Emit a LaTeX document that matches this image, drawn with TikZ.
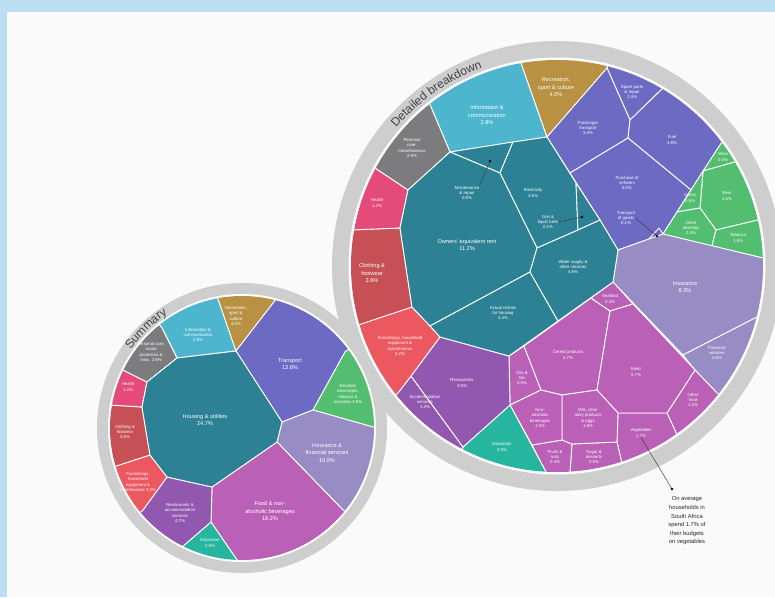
\documentclass[tikz,border=0pt]{standalone}
\usepackage{fontspec}
\setmainfont{Liberation Sans}
\usetikzlibrary{calc,decorations.text}

\begin{document}
\begin{tikzpicture}[x=1pt, y=-1pt,
    cell/.style={draw=white, line width=0.9pt, line join=round},
    lbl/.style={font=\fontsize{5.6}{7.2}\selectfont, text=white, align=center, inner sep=0pt},
    tiny/.style={font=\fontsize{4.3}{5.4}\selectfont},
    note/.style={font=\fontsize{5.8}{8.6}\selectfont, text=black!85, align=center, inner sep=0pt},
    pin/.style={black!75, line width=0.5pt}]
        \definecolor{frameblue}{RGB}{187,222,243}
        \definecolor{paper}{RGB}{250,250,250}
        \definecolor{ringgray}{RGB}{206,206,206}
        \definecolor{headgray}{RGB}{66,66,66}
        \definecolor{cteal}{RGB}{44,130,148}
        \definecolor{cinfo}{RGB}{78,181,207}
        \definecolor{crecr}{RGB}{184,146,66}
        \definecolor{ctrans}{RGB}{108,106,194}
        \definecolor{cgreen}{RGB}{84,190,112}
        \definecolor{cins}{RGB}{152,140,196}
        \definecolor{cfood}{RGB}{186,96,182}
        \definecolor{cedu}{RGB}{38,182,160}
        \definecolor{crest}{RGB}{146,88,176}
        \definecolor{cfurn}{RGB}{236,88,96}
        \definecolor{ccloth}{RGB}{198,80,86}
        \definecolor{chealth}{RGB}{228,74,122}
        \definecolor{cpers}{RGB}{124,124,126}

        \useasboundingbox (0,0) rectangle (775,597);

        % Page and frame
        \fill[frameblue] (0,0) rectangle (775,597);
        \fill[paper] (7,12) rectangle (775,597);

        \coordinate (B) at (557,266);
        \coordinate (S) at (242,428);

        % Detailed breakdown - ring
        \fill[ringgray] (B) circle (225);
        \fill[white] (B) circle (208.5);
        \path[decorate, decoration={text along path, text align=center, text color=headgray,
            text={|\fontsize{12}{13}\selectfont|Detailed breakdown}}]
            ($(B)+(-150:212)$) arc[start angle=-150, end angle=-100, radius=212];

        % Detailed breakdown - cells
        \begin{scope}
            \clip (B) circle (206);
            \fill[cinfo, cell] (450,152) -- (428,100) -- (397.6,60.5) -- (451.3,28.5) -- (511,10.1) -- (520,60) -- (547,137) -- cycle;
            \fill[crecr, cell] (520,60) -- (511,10.1) -- (620.8,13.9) -- (607,68) -- (547,137) -- cycle;
            % transport
            \fill[ctrans, cell] (607,68) -- (620.8,13.9) -- (689.7,42.4) -- (662,89) -- (630,120) -- cycle;
            \fill[ctrans, cell] (547,137) -- (607,68) -- (630,120) -- (628,138) -- (570,173) -- cycle;
            \fill[ctrans, cell] (630,120) -- (662,89) -- (689.7,42.4) -- (764.9,109.9) -- (722,142) -- (691,190) -- (628,138) -- cycle;
            \fill[ctrans, cell] (570,173) -- (628,138) -- (691,190) -- (663,234) -- (618,250) -- (600,220) -- cycle;
            \fill[ctrans, cell] (648,240) -- (663,234) -- (659,228) -- cycle;
            % alcoholic beverages & tobacco
            \fill[cgreen, cell] (722,142) -- (764.9,109.9) -- (782.6,136.8) -- (742,160) -- (703,171) -- cycle;
            \fill[cgreen, cell] (703,171) -- (742,160) -- (782.6,136.8) -- (810.3,207.5) -- (758,220) -- (716,230) -- (700,208) -- cycle;
            \fill[cgreen, cell] (703,171) -- (700,208) -- (677,212) -- cycle;
            \fill[cgreen, cell] (677,212) -- (700,208) -- (716,230) -- (712,246) -- (663,234) -- cycle;
            \fill[cgreen, cell] (716,230) -- (758,220) -- (810.3,207.5) -- (816.8,256) -- (763,258) -- (712,246) -- cycle;
            % insurance & financial services
            \fill[cins, cell] (618,250) -- (663,234) -- (763,258) -- (816.8,256) -- (808.9,330.2) -- (757,317) -- (683,355) -- (613,282) -- cycle;
            \fill[cins, cell] (683,355) -- (757,317) -- (808.9,330.2) -- (760.8,427.5) -- (717,393) -- (695,370) -- cycle;
            % food
            \fill[cfood, cell] (695,370) -- (717,393) -- (760.8,427.5) -- (707.3,478.2) -- (678,437) -- (667,413) -- cycle;
            \fill[cfood, cell] (618,413) -- (667,413) -- (678,437) -- (707.3,478.2) -- (637.8,513.1) -- (623,468) -- (617,442) -- cycle;
            \fill[cfood, cell] (572,444) -- (617,442) -- (623,468) -- (637.8,513.1) -- (573.3,525.5) -- (570,472) -- cycle;
            \fill[cfood, cell] (532,445) -- (562,440) -- (572,444) -- (570,472) -- (573.3,525.5) -- (542.9,525.6) -- (546,472) -- cycle;
            \fill[cfood, cell] (509,356) -- (524,346) -- (541,390) -- (510,405) -- cycle;
            \fill[cfood, cell] (524,346) -- (591,298) -- (610,311) -- (597,390) -- (562,395) -- (541,390) -- cycle;
            \fill[cfood, cell] (613,282) -- (591,298) -- (610,311) -- (633,304) -- cycle;
            \fill[cfood, cell] (610,311) -- (633,304) -- (695,370) -- (667,413) -- (618,413) -- (597,390) -- cycle;
            \fill[cfood, cell] (562,395) -- (597,390) -- (618,413) -- (617,442) -- (572,444) -- (562,440) -- cycle;
            \fill[cfood, cell] (510,405) -- (541,390) -- (562,395) -- (562,440) -- (532,445) -- cycle;
            % education, restaurants
            \fill[cedu, cell] (510,405) -- (546,472) -- (542.9,525.6) -- (437.3,496.8) -- (463,447) -- cycle;
            \fill[crest, cell] (411,376) -- (463,447) -- (437.3,496.8) -- (353.8,428.2) -- (398,393) -- cycle;
            \fill[crest, cell] (440,337) -- (509,356) -- (510,405) -- (463,447) -- (411,376) -- cycle;
            % furnishings, clothing, health, personal care
            \fill[cfurn, cell] (412,307) -- (430,326) -- (440,337) -- (411,376) -- (398,393) -- (353.8,428.2) -- (307.7,339.8) -- (358,325) -- cycle;
            \fill[ccloth, cell] (400,228) -- (412,307) -- (358,325) -- (307.7,339.8) -- (300.9,221.3) -- (350,230) -- cycle;
            \fill[chealth, cell] (408,190) -- (400,228) -- (350,230) -- (300.9,221.3) -- (328.1,142.7) -- (375,168) -- cycle;
            \fill[cpers, cell] (450,152) -- (408,190) -- (375,168) -- (328.1,142.7) -- (397.6,60.5) -- (428,100) -- cycle;
            % housing & utilities
            \fill[cteal, cell] (450,152) -- (513,142) -- (500,173) -- cycle;
            \fill[cteal, cell] (500,173) -- (513,142) -- (547,137) -- (576,183) -- (578,230) -- (537,248) -- cycle;
            \fill[cteal, cell] (576,183) -- (600,220) -- (578,230) -- cycle;
            \fill[cteal, cell] (408,190) -- (450,152) -- (500,173) -- (537,248) -- (530,272) -- (430,326) -- (412,307) -- (400,228) -- cycle;
            \fill[cteal, cell] (430,326) -- (530,272) -- (558,321) -- (509,356) -- (440,337) -- cycle;
            \fill[cteal, cell] (537,248) -- (578,230) -- (600,220) -- (618,250) -- (613,282) -- (558,321) -- (530,272) -- cycle;
        \end{scope}

        % Summary - ring
        \fill[ringgray] (S) circle (145);
        \fill[white] (S) circle (134);
        \path[decorate, decoration={text along path, text align=center, text color=headgray,
            text={|\fontsize{12}{13}\selectfont|Summary}}]
            ($(S)+(-162:136)$) arc[start angle=-162, end angle=-106, radius=136];

        % Summary - cells
        \begin{scope}
            \clip (S) circle (132);
            \fill[cinfo, cell] (177,358) -- (162,328) -- (132.6,291.4) -- (210.1,255.9) -- (218,299) -- (236,351) -- cycle;
            \fill[crecr, cell] (236,351) -- (218,299) -- (210.1,255.9) -- (287.3,259) -- (277,298) -- cycle;
            \fill[ctrans, cell] (236,351) -- (277,298) -- (287.3,259) -- (382.9,324.2) -- (345,352) -- (313,410) -- (282,422) -- cycle;
            \fill[cgreen, cell] (313,410) -- (345,352) -- (382.9,324.2) -- (417,426.8) -- (373,427) -- cycle;
            \fill[cins, cell] (282,422) -- (313,410) -- (373,427) -- (417,426.8) -- (378,538.1) -- (343,510) -- (277,442) -- cycle;
            \fill[cfood, cell] (277,442) -- (343,510) -- (378,538.1) -- (316,586.6) -- (235.9,602.9) -- (237,560) -- (211,522) -- (212,487) -- cycle;
            \fill[cedu, cell] (211,522) -- (237,560) -- (235.9,602.9) -- (162.6,583.9) -- (182,547) -- cycle;
            \fill[crest, cell] (167,477) -- (212,487) -- (211,522) -- (182,547) -- (162.6,583.9) -- (108,540.5) -- (143,510) -- cycle;
            \fill[cfurn, cell] (150,455) -- (167,477) -- (143,510) -- (108,540.5) -- (74.6,479.2) -- (113,467) -- cycle;
            \fill[ccloth, cell] (142,407) -- (150,455) -- (113,467) -- (74.6,479.2) -- (69.7,397.6) -- (110,405) -- cycle;
            \fill[chealth, cell] (147,382) -- (142,407) -- (110,405) -- (69.7,397.6) -- (84.7,351.3) -- (117,367) -- cycle;
            \fill[cpers, cell] (177,358) -- (147,382) -- (117,367) -- (84.7,351.3) -- (132.6,291.4) -- (162,328) -- cycle;
            \fill[cteal, cell] (177,358) -- (236,351) -- (282,422) -- (277,442) -- (212,487) -- (167,477) -- (150,455) -- (142,407) -- (147,382) -- cycle;
        \end{scope}

        % Labels for summary
        \node[lbl, tiny] (sInfo) at (198,335) {Information \&\\communication\\2.8\%};
        \node[lbl, tiny] (sRecr) at (236,316) {Recreation,\\sport \&\\culture\\4.0\%};
        \node[lbl, tiny] (sPers) at (151,352) {Personal care,\\social\\protection \&\\misc. 2.9\%};
        \node[lbl] (sTrans) at (290,364) {Transport\\13.8\%};
        \node[lbl, tiny] (sAlc) at (348,394) {Alcoholic\\beverages,\\tobacco \&\\narcotics 4.8\%};
        \node[lbl, tiny] (sHealth) at (128,387) {Health\\1.2\%};
        \node[lbl] (sHous) at (205,420) {Housing \& utilities\\24.7\%};
        \node[lbl, tiny] (sCloth) at (125,432) {Clothing \&\\footwear\\3.6\%};
        \node[lbl] (sIns) at (327,453) {Insurance \&\\financial services\\10.9\%};
        \node[lbl, tiny] (sFurn) at (138,482) {Furnishings,\\household\\equipment \&\\maintenance 3.2\%};
        \node[lbl, tiny] (sRest) at (180,513) {Restaurants \&\\accommodation\\services\\4.7\%};
        \node[lbl] (sFood) at (270,511) {Food \& non-\\alcoholic beverages\\18.2\%};
        \node[lbl, tiny] (sEdu) at (210,543) {Education\\2.5\%};

        % Labels for detailed breakdown
        \node[lbl] (dInfo) at (487,115) {Information \&\\communication\\2.8\%};
        \node[lbl] (dRecr) at (556,87) {Recreation,\\sport \& culture\\4.0\%};
        \node[lbl, tiny] (dPers) at (412,148) {Personal\\care,\\miscellaneous\\2.9\%};
        \node[lbl, tiny] (dHealth) at (377,203) {Health\\1.2\%};
        \node[lbl] (dCloth) at (372,273) {Clothing \&\\footwear\\3.6\%};
        \node[lbl, tiny] (dFurn) at (400,346) {Furnishings, household\\equipment \&\\maintenance\\3.2\%};
        \node[lbl, tiny] (dMaint) at (467,193) {Maintenance\\\& repair\\0.8\%};
        \node[lbl] (dOwn) at (467,245) {Owners' equivalent rent\\11.2\%};
        \node[lbl, tiny] (dElec) at (533,193) {Electricity\\3.6\%};
        \node[lbl, tiny] (dGas) at (548,222) {Gas \&\\liquid fuels\\0.1\%};
        \node[lbl, tiny] (dWater) at (573,267) {Water supply \&\\other services\\4.6\%};
        \node[lbl, tiny] (dRent) at (503,313) {Actual rentals\\for housing\\4.4\%};
        \node[lbl, tiny] (dSpare) at (632,92) {Spare parts\\\& repair\\1.4\%};
        \node[lbl, tiny] (dPass) at (588,128) {Passenger\\transport\\3.4\%};
        \node[lbl, tiny] (dFuel) at (672,140) {Fuel\\3.9\%};
        \node[lbl, tiny] (dVeh) at (627,183) {Purchase of\\vehicles\\5.0\%};
        \node[lbl, tiny] (dGoods) at (626,218) {Transport\\of goods\\0.1\%};
        \node[lbl, tiny] (dWine) at (723,157) {Wine\\0.5\%};
        \node[lbl, tiny] (dBeer) at (727,196) {Beer\\1.6\%};
        \node[lbl, tiny] (dSpir) at (690,198) {Spirits\\0.5\%};
        \node[lbl, tiny] (dOthAlc) at (691,228) {Other\\alcoholic\\0.4\%};
        \node[lbl, tiny] (dTob) at (738,238) {Tobacco\\1.8\%};
        \node[lbl] (dIns) at (685,287) {Insurance\\8.3\%};
        \node[lbl, tiny] (dFin) at (717,353) {Financial\\services\\2.6\%};
        \node[lbl, tiny] (dSea) at (610,299) {Seafood\\0.4\%};
        \node[lbl, tiny] (dCereal) at (568,355) {Cereal products\\4.7\%};
        \node[lbl, tiny] (dMeat) at (636,372) {Meat\\5.7\%};
        \node[lbl, tiny] (dOils) at (522,378) {Oils \&\\fats\\0.5\%};
        \node[lbl, tiny] (dNonAlc) at (540,418) {Non-\\alcoholic\\beverages\\1.3\%};
        \node[lbl, tiny] (dMilk) at (588,418) {Milk, other\\dairy products\\\& eggs\\1.8\%};
        \node[lbl, tiny] (dFruit) at (555,457) {Fruits \&\\nuts\\0.4\%};
        \node[lbl, tiny] (dSugar) at (594,457) {Sugar \&\\desserts\\0.5\%};
        \node[lbl, tiny] (dVeg) at (641,433) {Vegetables\\1.7\%};
        \node[lbl, tiny] (dOther) at (693,400) {Other\\food\\1.2\%};
        \node[lbl, tiny] (dRest) at (462,383) {Restaurants\\3.5\%};
        \node[lbl, tiny] (dAccom) at (425,402) {Accommodation\\services\\1.2\%};
        \node[lbl, tiny] (dEdu) at (502,447) {Education\\2.5\%};

        % Pointers
        \coordinate (mDot) at (490,161);
        \coordinate (gDot) at (582,217);
        \coordinate (tDot) at (657,236);
        \coordinate (vDot) at (672,489);
        \draw[pin] (dMaint.north east) -- (mDot);
        \draw[pin] (dGas.east) -- (gDot);
        \draw[pin] (dGoods.east) -- (tDot);
        \draw[pin] (dVeg.south) -- (vDot);
        \foreach \d in {mDot,gDot,tDot,vDot} \fill[black] (\d) circle (1.4);

        % Annotation
        \node[note] (annot) at (687,521) {On average\\households in\\South Africa\\spend 1.7\% of\\their budgets\\on vegetables};
\end{tikzpicture}
\end{document}
